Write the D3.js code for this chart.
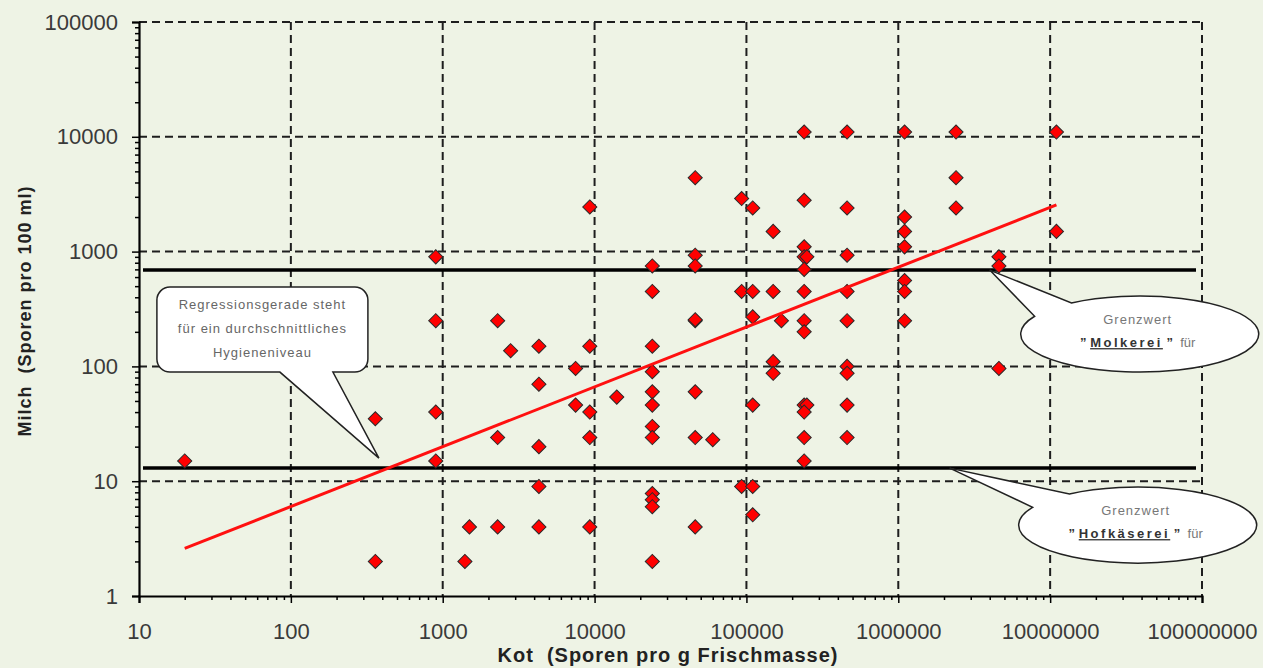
<!DOCTYPE html>
<html>
<head>
<meta charset="utf-8">
<script src="https://cdn.jsdelivr.net/npm/d3@7"></script>
<style>
  body { margin: 0; background: #eef3e5; }
  svg { display: block; font-family: Arial, "Liberation Sans", sans-serif; }
</style>
</head>
<body>
<div id="chart"></div>
<script>
// Achsen-Ticks
const xTicks = [10, 100, 1000, 10000, 100000, 1000000, 10000000, 100000000];
const yTicks = [1, 10, 100, 1000, 10000, 100000];

// Messwerte: Kot (Sporen pro g) und Milch (Sporen pro 100 ml), paarweise
const kot = [
  20,
  360, 360,
  900, 900, 900, 900,
  1400, 1500,
  2300, 2300, 2300,
  2800,
  4300, 4300, 4300, 4300, 4300,
  7500, 7500,
  9300, 9300, 9300, 9300, 9300,
  14000,
  24000, 24000, 24000, 24000, 24000, 24000, 24000, 24000, 24000, 24000, 24000, 24000,
  46000, 46000, 46000, 46000, 46000, 46000, 46000, 46000,
  60000,
  93000, 93000, 93000,
  110000, 110000, 110000, 110000, 110000, 110000,
  150000, 150000, 150000, 150000,
  170000,
  240000, 240000, 240000, 240000, 250000, 240000, 240000, 240000, 240000, 240000, 250000, 240000, 240000, 240000,
  460000, 460000, 460000, 460000, 460000, 460000, 460000, 460000, 460000,
  1100000, 1100000, 1100000, 1100000, 1100000, 1100000, 1100000,
  2400000, 2400000, 2400000,
  4600000, 4600000, 4600000,
  11000000, 11000000
];
const milch = [
  15,
  35, 2,
  900, 250, 40, 15,
  2, 4,
  250, 24, 4,
  137,
  150, 70, 20, 9, 4,
  96, 46,
  2450, 150, 40, 24, 4,
  54,
  750, 450, 150, 90, 60, 46, 30, 24, 7.8, 6.9, 6, 2,
  4400, 930, 750, 250, 255, 60, 24, 4,
  23,
  2900, 450, 9,
  2400, 450, 270, 46, 9, 5.1,
  1500, 450, 110, 87,
  250,
  11000, 2800, 1100, 900, 900, 700, 450, 250, 200, 46, 46, 40, 15, 24,
  11000, 2400, 930, 450, 250, 100, 87, 46, 24,
  11000, 2000, 1500, 1100, 560, 450, 250,
  11000, 4400, 2400,
  900, 750, 96,
  11000, 1500
];

// Regressionsgerade (Endpunkte)
const regKot = [20, 11000000];
const regMilch = [2.6, 2550];

// Grenzwerte
const grenzNamen = ["Molkerei", "Hofkäserei"];
const grenzWerte = [690, 13];

// Beschriftung der Sprechblasen
const regText = ["Regressionsgerade steht", "für ein durchschnittliches", "Hygieneniveau"];
const regTip = [380, 15.9];          // Spitze der Blase (Kot, Milch)
const grenzTipKot = [4000000, 2180000];

const W = 1263, H = 668;
const margin = { top: 22, right: 61, bottom: 72, left: 139 },
      width = W - margin.left - margin.right,
      height = H - margin.top - margin.bottom;

const svgRoot = d3.select("#chart").append("svg")
  .attr("width", W).attr("height", H);
svgRoot.append("rect").attr("width", W).attr("height", H).attr("fill", "#eef3e5");

const svg = svgRoot.append("g")
  .attr("transform", `translate(${margin.left},${margin.top})`);

const x = d3.scaleLog().domain([10, 1e8]).range([0, width]);
const y = d3.scaleLog().domain([1, 1e5]).range([height, 0]);

// Hilfsticks 2..9 je Dekade
function minorTicks(major) {
  const out = [];
  for (let i = 0; i < major.length - 1; i++)
    for (let k = 2; k <= 9; k++) out.push(major[i] * k);
  return out;
}

// Gitterlinien (gestrichelt)
const grid = svg.append("g")
  .attr("stroke", "#1e1e1e").attr("stroke-width", 2).attr("stroke-dasharray", "8,5");
grid.selectAll("line.v").data(xTicks.slice(1)).enter().append("line")
  .attr("x1", d => x(d)).attr("x2", d => x(d))
  .attr("y1", 0).attr("y2", height);
grid.selectAll("line.h").data(yTicks.slice(1)).enter().append("line")
  .attr("x1", 0).attr("x2", width)
  .attr("y1", d => y(d)).attr("y2", d => y(d));

// Achsen
const fmt = d3.format("d");
svg.append("g").attr("transform", `translate(0,${height})`)
  .call(d3.axisBottom(x).tickValues(xTicks).tickFormat(fmt).tickSize(7).tickPadding(20));
svg.append("g").attr("transform", `translate(0,${height})`)
  .call(d3.axisBottom(x).tickValues(minorTicks(xTicks)).tickFormat("").tickSize(4))
  .select(".domain").remove();
svg.append("g")
  .call(d3.axisLeft(y).tickValues(yTicks).tickFormat(fmt).tickSize(7).tickPadding(14));
svg.append("g")
  .call(d3.axisLeft(y).tickValues(minorTicks(yTicks)).tickFormat("").tickSize(4))
  .select(".domain").remove();

svg.selectAll(".domain").attr("stroke", "#000").attr("stroke-width", 2.2);
svg.selectAll(".tick line").attr("stroke", "#000").attr("stroke-width", 1.5);
svg.selectAll(".tick text")
  .attr("font-family", "Arial, 'Liberation Sans', sans-serif")
  .attr("font-size", 22).attr("fill", "#3a3a3a");

// Achsentitel
svg.append("text")
  .attr("x", 668 - margin.left).attr("y", height + 66)
  .attr("text-anchor", "middle")
  .attr("font-weight", "bold").attr("font-size", 20).attr("fill", "#222")
  .style("white-space", "pre").attr("letter-spacing", 1)
  .text("Kot  (Sporen pro g Frischmasse)");
svg.append("text")
  .attr("transform", `translate(${31 - margin.left},${311 - margin.top}) rotate(-90)`)
  .attr("text-anchor", "middle")
  .attr("font-weight", "bold").attr("font-size", 18).attr("fill", "#222")
  .style("white-space", "pre").attr("letter-spacing", 1)
  .text("Milch  (Sporen pro 100 ml)");

// Grenzwertlinien
svg.selectAll("line.grenz").data(grenzWerte).enter().append("line")
  .attr("x1", 4).attr("x2", width - 6)
  .attr("y1", d => y(d)).attr("y2", d => y(d))
  .attr("stroke", "#000").attr("stroke-width", 3.5);

// Datenpunkte (Rauten)
const pts = kot.map((k, i) => [k, milch[i]]);
const diamond = d3.symbol().type(d3.symbolSquare).size(100);
svg.append("g").selectAll("path").data(pts).enter().append("path")
  .attr("d", diamond)
  .attr("transform", d => `translate(${x(d[0])},${y(d[1])}) rotate(45)`)
  .attr("fill", "#ff0000").attr("stroke", "#2a2a2a").attr("stroke-width", 1);

// Regressionsgerade
svg.append("path")
  .datum(regKot.map((k, i) => [k, regMilch[i]]))
  .attr("d", d3.line().x(d => x(d[0])).y(d => y(d[1])))
  .attr("fill", "none").attr("stroke", "#ff1010").attr("stroke-width", 3);

// Sprechblase Regression
{
  const tx = x(regTip[0]), ty = y(regTip[1]);
  const l = tx - 222, r = tx - 11, t = ty - 171, b = ty - 86, c = 13;
  const p1 = tx - 99, p2 = tx - 46;
  const d = `M${l + c},${t} H${r - c} A${c},${c} 0 0 1 ${r},${t + c} V${b - c} A${c},${c} 0 0 1 ${r - c},${b}` +
            ` H${p2} L${tx},${ty} L${p1},${b} H${l + c} A${c},${c} 0 0 1 ${l},${b - c} V${t + c} A${c},${c} 0 0 1 ${l + c},${t} Z`;
  svg.append("path").attr("d", d).attr("fill", "#fff").attr("stroke", "#222").attr("stroke-width", 1.5);
  svg.selectAll("text.reg").data(regText).enter().append("text")
    .attr("x", (l + r) / 2).attr("y", (dd, i) => t + 22 + i * 24)
    .attr("text-anchor", "middle").attr("font-size", 13).attr("fill", "#666")
    .attr("letter-spacing", 1)
    .text(dd => dd);
}

// Ovale Sprechblasen der Grenzwerte
const ovalOffsets = [[150, 64], [188, 57]];
grenzNamen.forEach((name, i) => {
  const tx = x(grenzTipKot[i]), ty = y(grenzWerte[i]);
  const cx = tx + ovalOffsets[i][0], cy = ty + ovalOffsets[i][1];
  const rx = 119, ry = 38;
  const a1 = -125 * Math.PI / 180, a2 = -152 * Math.PI / 180;
  const A = [cx + rx * Math.cos(a1), cy + ry * Math.sin(a1)];
  const B = [cx + rx * Math.cos(a2), cy + ry * Math.sin(a2)];
  svg.append("path")
    .attr("d", `M${tx},${ty} L${A} A${rx},${ry} 0 1 1 ${B} Z`)
    .attr("fill", "#fff").attr("stroke", "#222").attr("stroke-width", 1.5);
  svg.append("text").attr("x", cx - 2).attr("y", cy - 10)
    .attr("text-anchor", "middle").attr("font-size", 13).attr("fill", "#777")
    .attr("letter-spacing", 1)
    .text("Grenzwert");
  const t2 = svg.append("text").attr("x", cx - 2).attr("y", cy + 13)
    .attr("text-anchor", "middle").attr("font-size", 13);
  t2.append("tspan").attr("font-weight", "bold").attr("fill", "#333").text("\u201D ");
  t2.append("tspan").attr("font-weight", "bold").attr("fill", "#333")
    .attr("letter-spacing", 2.5).style("text-decoration", "underline").text(name);
  t2.append("tspan").attr("font-weight", "bold").attr("fill", "#333").text(" \u201D");
  t2.append("tspan").attr("fill", "#777").style("white-space", "pre").text("  für");
});
</script>
</body>
</html>
